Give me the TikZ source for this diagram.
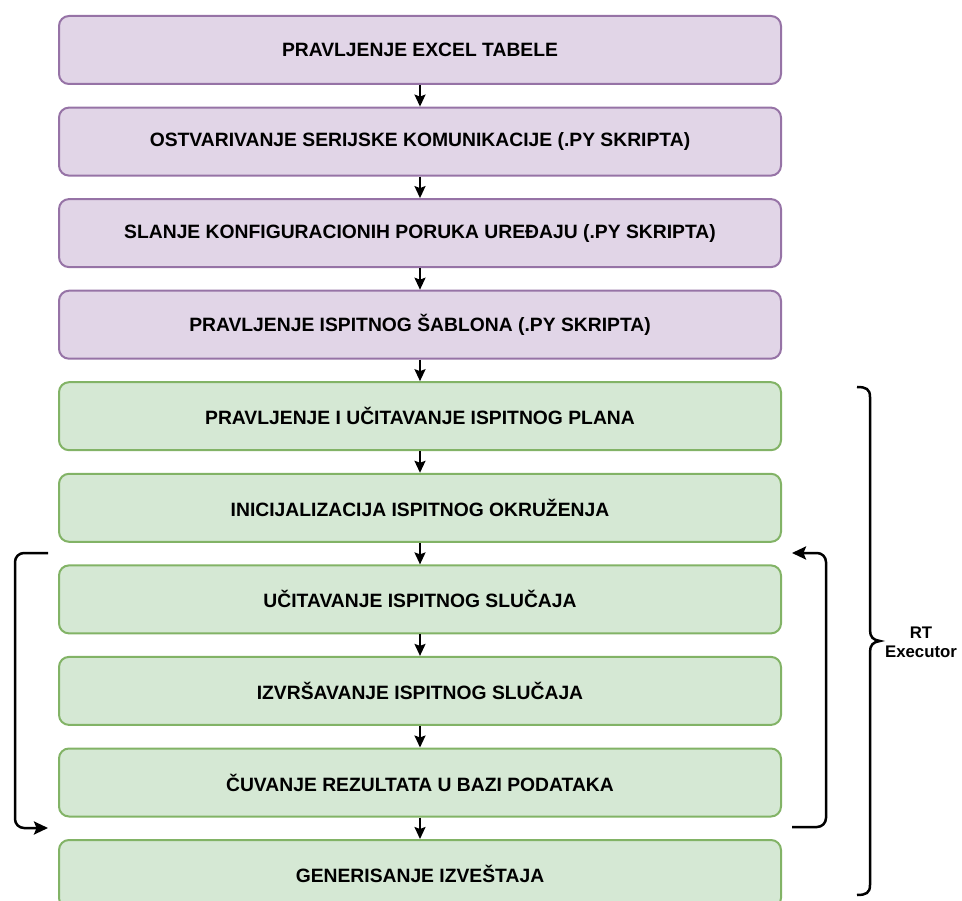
\documentclass[tikz,border=0pt]{standalone}
\usepackage{fontspec}
\setmainfont{Liberation Sans}
\usetikzlibrary{arrows.meta}
\definecolor{pfill}{HTML}{E1D5E7}
\definecolor{pdraw}{HTML}{9673A6}
\definecolor{gfill}{HTML}{D5E8D4}
\definecolor{gdraw}{HTML}{82B366}
\tikzset{
  box/.style={rounded corners=10pt, line width=2pt, minimum width=722pt, minimum height=68pt, anchor=north, inner sep=0pt, font=\fontsize{19.3}{23}\selectfont\bfseries},
  pbox/.style={box, draw=pdraw, fill=pfill},
  gbox/.style={box, draw=gdraw, fill=gfill},
  conn/.style={line width=2pt, -{Stealth[length=12pt,width=11pt,inset=2pt]}},
  loopl/.style={line width=2.5pt, rounded corners=9pt, -{Stealth[length=14pt,width=13pt,inset=2.5pt]}},
}
\begin{document}
\begin{tikzpicture}[x=1pt,y=-1pt]
\useasboundingbox (0,0) rectangle (962,901);
\begin{scope}
\clip (0,0) rectangle (962,901);
\node[pbox] (b1) at (420,15) {PRAVLJENJE EXCEL TABELE};
\node[pbox] (b2) at (420,106.6) {OSTVARIVANJE SERIJSKE KOMUNIKACIJE (.PY SKRIPTA)};
\node[pbox] (b3) at (420,198.1) {SLANJE KONFIGURACIONIH PORUKA UREĐAJU (.PY SKRIPTA)};
\node[pbox] (b4) at (420,289.7) {PRAVLJENJE ISPITNOG ŠABLONA (.PY SKRIPTA)};
\node[gbox] (b5) at (420,381.2) {PRAVLJENJE I UČITAVANJE ISPITNOG PLANA};
\node[gbox] (b6) at (420,472.8) {INICIJALIZACIJA ISPITNOG OKRUŽENJA};
\node[gbox] (b7) at (420,564.4) {UČITAVANJE ISPITNOG SLUČAJA};
\node[gbox] (b8) at (420,655.9) {IZVRŠAVANJE ISPITNOG SLUČAJA};
\node[gbox] (b9) at (420,747.5) {ČUVANJE REZULTATA U BAZI PODATAKA};
\node[gbox] (b10) at (420,839) {GENERISANJE IZVEŠTAJA};
\end{scope}
\foreach \a/\b in {b1/b2,b2/b3,b3/b4,b4/b5,b5/b6,b6/b7,b7/b8,b8/b9,b9/b10}
  \draw[conn] (\a.south) -- (\b.north);
% left loop bracket
\coordinate (ls) at (48,553);
\coordinate (le) at (48,828);
\draw[loopl] (ls) -- (15,553) -- (15,828) -- (le);
% right loop bracket
\coordinate (rs) at (792,827);
\coordinate (re) at (792,553);
\draw[loopl] (rs) -- (826,827) -- (826,553) -- (re);
% curly brace
\draw[line width=2.5pt] (857,387) .. controls (866,387) and (870,389) .. (870,397)
  -- (870,630) .. controls (870,637) and (873,640) .. (880,641)
  .. controls (873,642) and (870,645) .. (870,652)
  -- (870,885) .. controls (870,893) and (866,895) .. (857,895);
\node[font=\fontsize{16.8}{19}\selectfont\bfseries, align=center] (rt) at (921,642) {RT\\Executor};
\end{tikzpicture}
\end{document}
